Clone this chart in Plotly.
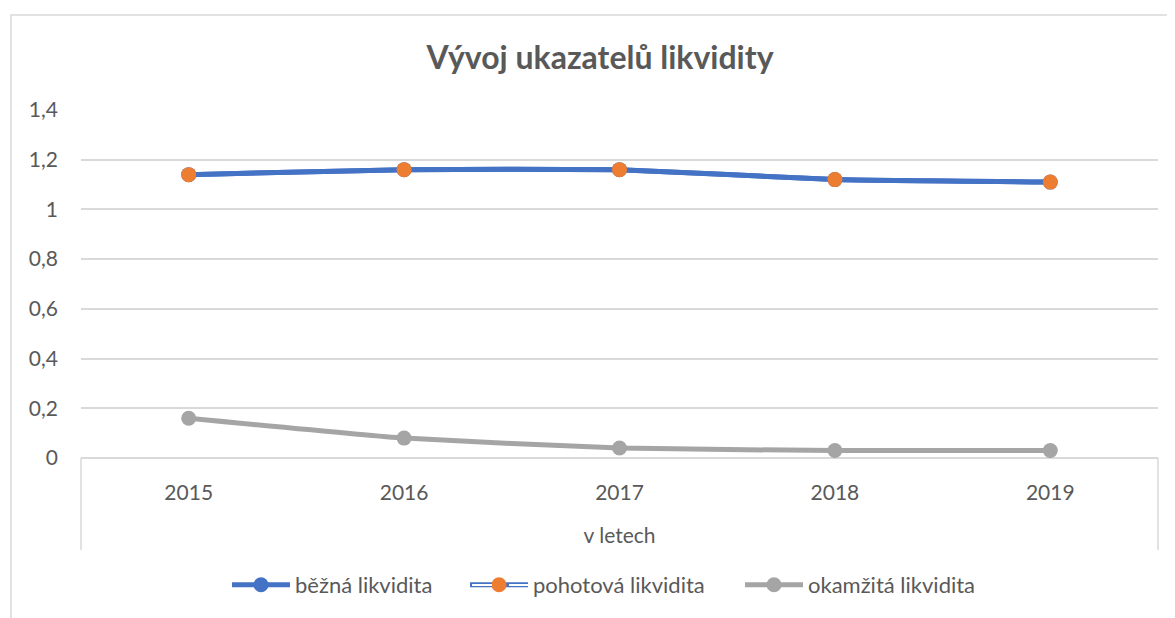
import plotly.graph_objects as go

years = ["2015", "2016", "2017", "2018", "2019"]
bezna = [1.14, 1.16, 1.16, 1.12, 1.11]
pohotova = [1.14, 1.16, 1.16, 1.12, 1.11]
okamzita = [0.16, 0.08, 0.04, 0.03, 0.03]
y_ticks = [0, 0.2, 0.4, 0.6, 0.8, 1.0, 1.2, 1.4]
y_labels = ["0", "0,2", "0,4", "0,6", "0,8", "1", "1,2", "1,4"]

FONT = "Lato, 'Open Sans', sans-serif"
TXT = "#595959"
OFF = 8  # page body margin

W, H = 1175 - OFF, 618 - OFF
PX0, PX1, PY0, PY1 = 81, 1158, 110, 458
L, T = PX0 - OFF, PY0 - OFF
R, B = W - (PX1 - OFF), H - (PY1 - OFF)
pw, ph = W - L - R, H - T - B

def px(x):
    return (x - OFF - L) / pw

def py(y):
    return (H - B - (y - OFF)) / ph

fig = go.Figure()
fig.add_trace(go.Scatter(
    x=years, y=bezna, name="běžná likvidita", mode="lines+markers",
    line=dict(color="#4472C4", width=5, shape="spline", smoothing=0.4),
    marker=dict(color="#4472C4", size=15), legend="legend", showlegend=True,
))
fig.add_trace(go.Scatter(
    x=years, y=pohotova, name="pohotová likvidita", mode="lines+markers",
    line=dict(color="#4472C4", width=5, shape="spline", smoothing=0.4),
    marker=dict(color="#ED7D31", size=15), legend="legend2", showlegend=True,
))
fig.add_trace(go.Scatter(
    x=years, y=okamzita, name="okamžitá likvidita", mode="lines+markers",
    line=dict(color="#A5A5A5", width=5, shape="spline", smoothing=0.4),
    marker=dict(color="#A5A5A5", size=15), legend="legend3", showlegend=True,
))

shapes = [
    dict(type="rect", xref="paper", yref="paper", x0=px(11), x1=px(1190), y0=py(15), y1=py(650),
         line=dict(color="#d9d9d9", width=1.5), fillcolor="rgba(0,0,0,0)", layer="below"),
    dict(type="line", xref="paper", yref="paper", x0=0, x1=0, y0=0, y1=py(550),
         line=dict(color="#d9d9d9", width=1.5)),
    dict(type="line", xref="paper", yref="paper", x0=1, x1=1, y0=0, y1=py(550),
         line=dict(color="#d9d9d9", width=1.5)),
]

# white core of the double-line legend symbol of "pohotová likvidita" (either side of marker)
annotations = [
    dict(xref="paper", yref="paper", x=px(cx), y=py(585), xanchor="center", yanchor="middle",
         text=" ", showarrow=False, font=dict(size=1), width=w, height=1.5,
         bgcolor="white", borderpad=0, borderwidth=0)
    for cx, w in [(482, 20), (518.5, 19)]
]

LEG_Y = py(585)
leg_common = dict(orientation="h", yanchor="middle", y=LEG_Y, xanchor="left",
                  font=dict(size=22, color=TXT, family=FONT), bgcolor="rgba(0,0,0,0)",
                  itemwidth=58)

fig.update_layout(
    width=W, height=H,
    margin=dict(l=L, r=R, t=T, b=B),
    paper_bgcolor="white", plot_bgcolor="white",
    font=dict(family=FONT, color=TXT, size=21),
    title=dict(text="<b>Vývoj ukazatelů likvidity</b>", x=(600 - OFF) / W, xref="container",
               xanchor="center", y=1 - (58 - OFF) / H, yanchor="middle",
               font=dict(family=FONT, size=32, color=TXT)),
    xaxis=dict(range=[-0.5, 4.5], showgrid=False, showline=False, zeroline=False,
               ticks="", ticklabelstandoff=20, tickfont=dict(size=21, color=TXT),
               title=dict(text="v letech", font=dict(size=21, color=TXT), standoff=25)),
    yaxis=dict(range=[0, 1.4], tickvals=y_ticks, ticktext=y_labels,
               showgrid=True, gridcolor="#d9d9d9", gridwidth=1.5,
               zeroline=True, zerolinecolor="#d9d9d9", zerolinewidth=1.5,
               showline=False, ticks="", ticklabelstandoff=22,
               tickfont=dict(size=21, color=TXT)),
    showlegend=True,
    legend=dict(x=px(227), **leg_common),
    legend2=dict(x=px(465), **leg_common),
    legend3=dict(x=px(740), **leg_common),
    shapes=shapes,
    annotations=annotations,
)

fig.write_html("out.html")
